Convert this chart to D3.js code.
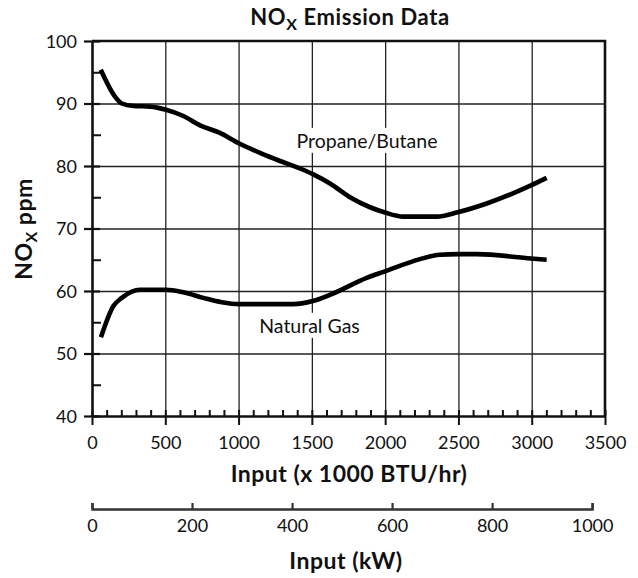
<!DOCTYPE html>
<html>
<head>
<meta charset="utf-8">
<script src="https://cdn.jsdelivr.net/npm/d3@7"></script>
<style>
  body { margin: 0; background: #fff; }
  text { font-family: Lato, "Open Sans", sans-serif; fill: #111; }
</style>
</head>
<body>
<svg id="chart" width="638" height="578"></svg>
<script>
// values
const propaneX = [60, 157, 203, 282, 396, 505, 623, 737, 873, 1005, 1146, 1283, 1419, 1506, 1624, 1760, 1897, 1994, 2124, 2352, 2495, 2693, 2995, 3102];
const propaneY = [95.4, 91.1, 90.0, 89.6, 89.5, 89.0, 88.0, 86.5, 85.3, 83.6, 82.1, 80.8, 79.6, 78.7, 77.2, 75.0, 73.4, 72.6, 71.9, 71.9, 72.6, 74.0, 76.9, 78.1];
const gasX = [61, 146, 203, 328, 505, 623, 760, 885, 1005, 1374, 1506, 1635, 1874, 1994, 2238, 2374, 2495, 2625, 2995, 3102];
const gasY = [52.6, 57.6, 58.9, 60.2, 60.2, 59.8, 58.9, 58.2, 57.9, 57.9, 58.4, 59.5, 62.1, 63.1, 65.1, 65.8, 65.9, 65.9, 65.2, 65.0];

const btuTicks = [0, 500, 1000, 1500, 2000, 2500, 3000, 3500];
const btuMinor = d3.range(0, 3501, 100);
const noxTicks = [40, 50, 60, 70, 80, 90, 100];
const noxMinor = [45, 55, 65, 75, 85, 95];
const kwTicks = [0, 200, 400, 600, 800, 1000];
const BTU_PER_KW = 3.412;

const svg = d3.select("#chart");

const x = d3.scaleLinear().domain([0, 3500]).range([92, 605]);
const y = d3.scaleLinear().domain([40, 100]).range([416, 41]);
const kw = d3.scaleLinear().domain([0, 1000]).range([x(0), x(1000 * BTU_PER_KW)]);

const plotH = y(40) - y(100);
const plotW = x(3500) - x(0);
const fmt = d3.format("d");

// grid
svg.append("g")
  .attr("transform", `translate(0,${y(40)})`)
  .call(d3.axisBottom(x).tickValues(btuTicks.slice(1, -1)).tickSize(-plotH).tickFormat(""))
  .call(g => g.select(".domain").remove())
  .call(g => g.selectAll("line").attr("stroke", "#222").attr("stroke-width", 1.3));

svg.append("g")
  .attr("transform", `translate(${x(0)},0)`)
  .call(d3.axisLeft(y).tickValues(noxTicks.slice(1, -1)).tickSize(-plotW).tickFormat(""))
  .call(g => g.select(".domain").remove())
  .call(g => g.selectAll("line").attr("stroke", "#222").attr("stroke-width", 1.3));

// frame top & right
svg.append("path")
  .attr("d", `M${x(0)},${y(100)}H${x(3500)}V${y(40)}`)
  .attr("fill", "none").attr("stroke", "#111").attr("stroke-width", 2.6);

// x axis (BTU)
svg.append("g")
  .attr("transform", `translate(0,${y(40)})`)
  .call(d3.axisTop(x).tickValues(btuMinor).tickSize(6).tickFormat(""))
  .call(g => g.select(".domain").remove())
  .call(g => g.selectAll("line").attr("stroke", "#111").attr("stroke-width", 2));

svg.append("g")
  .attr("transform", `translate(0,${y(40)})`)
  .call(d3.axisBottom(x).tickValues(btuTicks).tickFormat(fmt).tickSize(9).tickSizeOuter(0))
  .call(g => g.select(".domain").attr("stroke", "#111").attr("stroke-width", 2.6))
  .call(g => g.selectAll("line").attr("stroke", "#111").attr("stroke-width", 2))
  .call(g => g.selectAll("text").attr("y", 27).attr("dy", "0.35em")
    .attr("font-size", 18).attr("font-family", "Lato, sans-serif").attr("fill", "#111"));

// y axis
svg.append("g")
  .attr("transform", `translate(${x(0)},0)`)
  .call(d3.axisRight(y).tickValues(noxMinor).tickSize(9).tickFormat(""))
  .call(g => g.select(".domain").remove())
  .call(g => g.selectAll("line").attr("stroke", "#111").attr("stroke-width", 2));

svg.append("g")
  .attr("transform", `translate(${x(0)},0)`)
  .call(d3.axisRight(y).tickValues(noxTicks).tickSize(8).tickFormat(""))
  .call(g => g.select(".domain").remove())
  .call(g => g.selectAll("line").attr("stroke", "#111").attr("stroke-width", 2.2));

svg.append("g")
  .attr("transform", `translate(${x(0)},0)`)
  .call(d3.axisLeft(y).tickValues(noxTicks).tickFormat(fmt).tickSize(8).tickSizeOuter(0).tickPadding(7))
  .call(g => g.select(".domain").attr("stroke", "#111").attr("stroke-width", 2.6))
  .call(g => g.selectAll("line").attr("stroke", "#111").attr("stroke-width", 2.2))
  .call(g => g.selectAll("text").attr("dy", "0.35em")
    .attr("font-size", 18).attr("font-family", "Lato, sans-serif").attr("fill", "#111"));

// kW axis
svg.append("g")
  .attr("transform", `translate(0,509)`)
  .call(d3.axisBottom(kw).tickValues(kwTicks).tickFormat(fmt).tickSize(-6))
  .call(g => g.select(".domain").attr("stroke", "#333").attr("stroke-width", 2.4))
  .call(g => g.selectAll("line").attr("stroke", "#333").attr("stroke-width", 2.2))
  .call(g => g.selectAll("text").attr("y", 17).attr("dy", "0.35em")
    .attr("font-size", 18).attr("font-family", "Lato, sans-serif").attr("fill", "#111"));

// curves
const line = d3.line().x(d => x(d[0])).y(d => y(d[1])).curve(d3.curveMonotoneX);
[[propaneX, propaneY], [gasX, gasY]].forEach(([xs, ys]) => {
  svg.append("path")
    .datum(xs.map((v, i) => [v, ys[i]]))
    .attr("fill", "none")
    .attr("stroke", "#000")
    .attr("stroke-width", 4.6)
    .attr("stroke-linejoin", "round")
    .attr("d", line);
});

// curve labels with white boxes
function label(txt, bx, by) {
  const g = svg.append("g");
  const t = g.append("text")
    .attr("x", x(bx)).attr("y", y(by)).attr("dy", "0.35em")
    .attr("text-anchor", "middle").attr("font-size", 19.5)
    .text(txt);
  const bb = t.node().getBBox();
  g.insert("rect", "text")
    .attr("x", bb.x - 2).attr("y", bb.y - 1)
    .attr("width", bb.width + 4).attr("height", bb.height + 2)
    .attr("fill", "#fff");
}
label("Propane/Butane", 1876, 84.0);
label("Natural Gas", 1484, 54.4);

// titles
const title = svg.append("text")
  .attr("x", 350).attr("y", 25)
  .attr("text-anchor", "middle").attr("font-size", 22).attr("font-weight", "bold")
  .attr("letter-spacing", 0.6);
title.append("tspan").text("NO");
title.append("tspan").attr("dy", 5).attr("font-size", 16).text("X");
title.append("tspan").attr("dy", -5).text(" Emission Data");

svg.append("text")
  .attr("x", 349).attr("y", 474).attr("dy", "0.35em")
  .attr("text-anchor", "middle").attr("font-size", 23).attr("font-weight", "bold")
  .attr("letter-spacing", 0.5)
  .text("Input (x 1000 BTU/hr)");

svg.append("text")
  .attr("x", 346).attr("y", 561).attr("dy", "0.35em")
  .attr("text-anchor", "middle").attr("font-size", 23).attr("font-weight", "bold")
  .attr("letter-spacing", 0.5)
  .text("Input (kW)");

const yl = svg.append("text")
  .attr("transform", "translate(24,229) rotate(-90)")
  .attr("dy", "0.35em")
  .attr("text-anchor", "middle").attr("font-size", 23).attr("font-weight", "bold")
  .attr("letter-spacing", 0.5);
yl.append("tspan").text("NO");
yl.append("tspan").attr("dy", 5).attr("font-size", 16).text("X");
yl.append("tspan").attr("dy", -5).text(" ppm");
</script>
</body>
</html>
